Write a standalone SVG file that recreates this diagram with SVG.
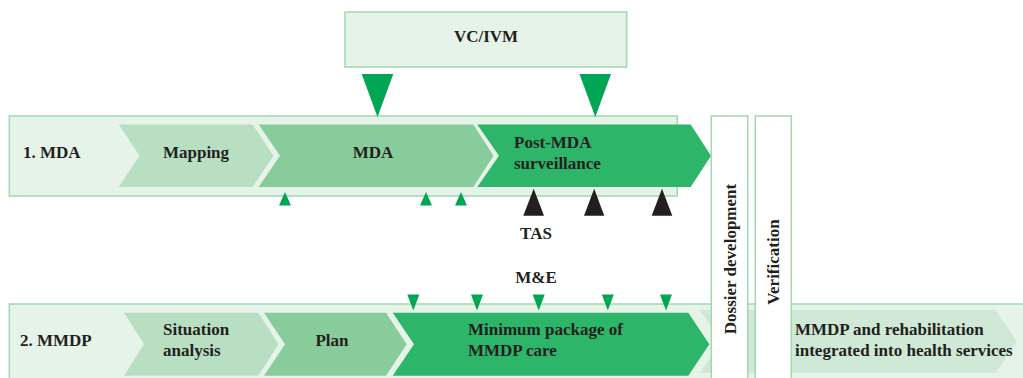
<svg xmlns="http://www.w3.org/2000/svg" width="1023" height="378" viewBox="0 0 1023 378">
<style>
.box{fill:#e5f3e8;stroke:#9fd9b0;stroke-width:1.5}
.wbox{fill:#ffffff;stroke:#9fd9b0;stroke-width:1.5}
.c1{fill:#b9dfc3}
.c2{fill:#89cc9b}
.c3{fill:#2db56a}
.c4{fill:#cfe9d6}
.tg{fill:#00a651}
.tb{fill:#231f20}
text{font-family:"Liberation Serif",serif;font-weight:bold;font-size:17px;fill:#231f20}
.m{text-anchor:middle}
</style>
<g id="vcivm"><rect class="box" x="345" y="12" width="281.7" height="55"/><text class="m" x="486" y="42">VC/IVM</text></g>
<g id="row-mda">
<rect class="box" x="9.3" y="116" width="668" height="80"/>
<text x="23" y="158">1. MDA</text>
</g>
<g id="mapping"><polygon class="c1" points="118.7,124.5 252.5,124.5 273.5,155.7 252.5,187 118.7,187 139.5,155.7"/><text class="m" x="196" y="158">Mapping</text></g>
<g id="mda"><polygon class="c2" points="258.7,124.5 473.3,124.5 493.5,155.7 473.3,187 258.7,187 280,155.7"/><text class="m" x="373" y="158">MDA</text></g>
<g id="post-mda"><polygon class="c3" points="477.3,124.5 690.7,124.5 711,155.7 690.7,187 477.3,187 499,155.7"/><text x="514" y="148">Post-MDA</text><text x="514" y="169">surveillance</text></g>
<g id="row-mmdp">
<rect class="box" x="9.3" y="304" width="1020" height="80"/>
<text x="20" y="346">2. MMDP</text>
</g>
<g id="rehab"><polygon class="c4" points="700,310 995.7,310 1016.7,341.5 995.7,373 700,373 721,341.5"/><text x="795" y="335">MMDP and rehabilitation</text><text x="795" y="356">integrated into health services</text></g>
<g id="situation"><polygon class="c1" points="124,312.7 258.3,312.7 278.5,344.2 258.3,375.7 124,375.7 144,344.2"/><text x="163" y="335">Situation</text><text x="163" y="356">analysis</text></g>
<g id="plan"><polygon class="c2" points="264,312.7 386,312.7 406.7,344.2 386,375.7 264,375.7 285,344.2"/><text class="m" x="332" y="346">Plan</text></g>
<g id="min-package"><polygon class="c3" points="392.7,312.7 688.3,312.7 709.3,344.2 688.3,375.7 392.7,375.7 414,344.2"/><text x="468" y="335">Minimum package of</text><text x="468" y="356">MMDP care</text></g>
<g id="dossier"><rect class="wbox" x="711.3" y="116" width="36.4" height="270"/><text class="m" transform="translate(735.5,259) rotate(-90)">Dossier development</text></g>
<g id="verification"><rect class="wbox" x="755.3" y="116" width="36" height="270"/><text class="m" transform="translate(779,262) rotate(-90)">Verification</text></g>
<g id="labels"><text class="m" x="536" y="239">TAS</text><text class="m" x="536" y="283">M&amp;E</text></g>
<g id="connectors">
<polygon class="tg" points="361.7,74 393.3,74 377.5,117"/>
<polygon class="tg" points="579.5,74 611,74 595.3,117"/>
<polygon class="tg" points="285,192 291,205.5 279,205.5"/>
<polygon class="tg" points="426,192 432,205.5 420,205.5"/>
<polygon class="tg" points="461,192 467,205.5 455,205.5"/>
<polygon class="tb" points="533.7,188.7 544,215.7 523.3,215.7"/>
<polygon class="tb" points="594.2,188.7 604.3,215.7 584,215.7"/>
<polygon class="tb" points="662,188.7 672.3,215.7 651.7,215.7"/>
<polygon class="tg" points="407.3,294.5 419.3,294.5 413.3,310.5"/>
<polygon class="tg" points="471,294.5 483,294.5 477,310.5"/>
<polygon class="tg" points="532.7,294.5 544.7,294.5 538.7,310.5"/>
<polygon class="tg" points="601.8,294.5 613.8,294.5 607.8,310.5"/>
<polygon class="tg" points="660,294.5 672,294.5 666,310.5"/>
</g>
</svg>
